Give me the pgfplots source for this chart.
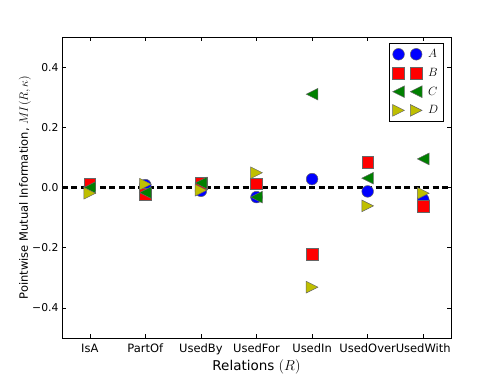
\documentclass[border=0pt]{standalone}
\usepackage{pgfplots}
\pgfplotsset{compat=1.18}
\usepackage{fontspec}
\setmainfont{DejaVu Sans}
\definecolor{mplblue}{rgb}{0,0,1}
\definecolor{mplred}{rgb}{1,0,0}
\definecolor{mplgreen}{rgb}{0,0.5,0}
\definecolor{mplyellow}{rgb}{0.75,0.75,0}
\pgfdeclareplotmark{tleft}{%
  \pgfpathmoveto{\pgfqpoint{-\pgfplotmarksize}{0pt}}%
  \pgfpathlineto{\pgfqpoint{\pgfplotmarksize}{\pgfplotmarksize}}%
  \pgfpathlineto{\pgfqpoint{\pgfplotmarksize}{-\pgfplotmarksize}}%
  \pgfpathclose\pgfusepathqfillstroke}
\pgfdeclareplotmark{tright}{%
  \pgfpathmoveto{\pgfqpoint{\pgfplotmarksize}{0pt}}%
  \pgfpathlineto{\pgfqpoint{-\pgfplotmarksize}{\pgfplotmarksize}}%
  \pgfpathlineto{\pgfqpoint{-\pgfplotmarksize}{-\pgfplotmarksize}}%
  \pgfpathclose\pgfusepathqfillstroke}
\pgfplotsset{
  twomarks/.style={legend image code/.code={%
    \draw[only marks,mark repeat=1,mark phase=1] plot coordinates {(0pt,0pt)(17.6pt,0pt)};}},
}
\begin{document}
\begin{tikzpicture}
\path[use as bounding box] (-62pt,-38pt) rectangle (439pt,338pt);
\begin{axis}[
  at={(0,0)}, anchor=south west,
  scale only axis, width=389pt, height=301pt,
  xmin=0.5, xmax=7.5, ymin=-0.5, ymax=0.5,
  xtick={1,2,3,4,5,6,7},
  xticklabels={IsA,PartOf,UsedBy,UsedFor,UsedIn,UsedOver,UsedWith},
  ytick={-0.4,-0.2,0,0.2,0.4},
  yticklabels={−0.4,−0.2,0.0,0.2,0.4},
  tick align=inside,
  major tick length=4pt,
  tick style={black, line width=0.5pt},
  axis line style={black, line width=0.8pt},
  xticklabel style={font=\fontsize{11.5}{13}\selectfont, text height=8.5pt, text depth=2pt, yshift=-2pt},
  yticklabel style={font=\fontsize{10.8}{13}\selectfont, xshift=0pt},
  xlabel={Relations $(R)$},
  ylabel={Pointwise Mutual Information, $MI(R,\kappa)$},
  xlabel style={font=\fontsize{13.5}{15}\selectfont, at={(axis description cs:0.5,-0.107)}, anchor=base},
  ylabel style={font=\fontsize{11.5}{13}\selectfont, at={(axis description cs:-0.088,0.5)}, anchor=base, rotate=0},
  legend style={at={(0.982,0.98)}, anchor=north east, draw=black, line width=0.8pt,
    font=\fontsize{12}{14}\selectfont, row sep=5pt, inner xsep=3.5pt, inner ysep=4pt,
    /tikz/every odd column/.append style={column sep=4pt}},
  legend cell align=left,
  every axis plot/.append style={mark options={draw=black!60, line width=0.5pt}},
]
\addplot[black, line width=2.3pt, dash pattern=on 6pt off 3.5pt, forget plot] coordinates {(0.5,0) (7.5,0)};
\addplot[only marks, mark=*, mark size=5.85pt, fill=mplblue, twomarks] coordinates {
  (1,0.003) (2,0.008) (3,-0.011) (4,-0.032) (5,0.028) (6,-0.013) (7,-0.040)};
\addlegendentry{$A$}
\addplot[only marks, mark=square*, mark size=5.85pt, fill=mplred, twomarks] coordinates {
  (1,0.010) (2,-0.022) (3,0.015) (4,0.012) (5,-0.221) (6,0.084) (7,-0.063)};
\addlegendentry{$B$}
\addplot[only marks, mark=tleft, mark size=5.85pt, fill=mplgreen, twomarks] coordinates {
  (1,0.000) (2,-0.017) (3,0.015) (4,-0.032) (5,0.310) (6,0.031) (7,0.095)};
\addlegendentry{$C$}
\addplot[only marks, mark=tright, mark size=5.85pt, fill=mplyellow, twomarks] coordinates {
  (1,-0.019) (2,0.011) (3,-0.009) (4,0.049) (5,-0.331) (6,-0.061) (7,-0.019)};
\addlegendentry{$D$}
\end{axis}
\end{tikzpicture}
\end{document}
